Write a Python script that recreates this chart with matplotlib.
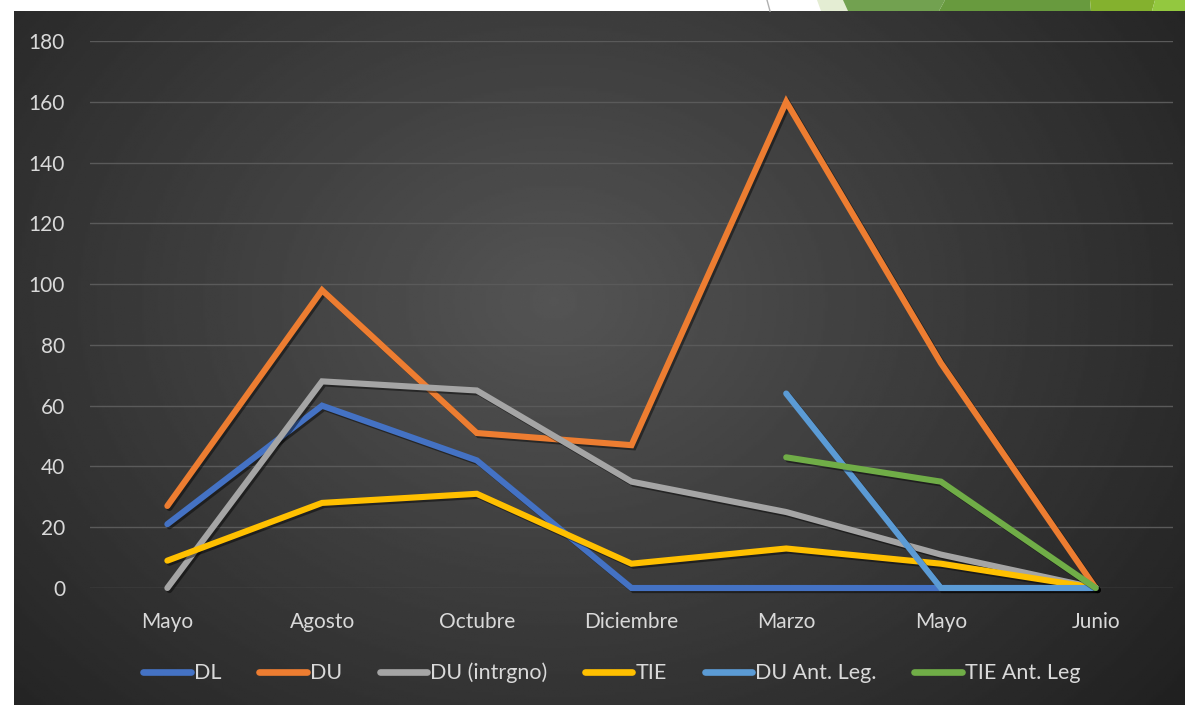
import matplotlib
matplotlib.use("Agg")
import matplotlib.pyplot as plt
import matplotlib.patheffects as pe
import numpy as np
from matplotlib.patches import Polygon

months = ["Mayo", "Agosto", "Octubre", "Diciembre", "Marzo", "Mayo", "Junio"]
nan = np.nan
dl = [21, 60, 42, 0, 0, 0, 0]
du = [27, 98, 51, 47, 160, 74, 0]
du_intrgno = [0, 68, 65, 35, 25, 11, 0]
tie = [9, 28, 31, 8, 13, 8, 0]
du_ant = [nan, nan, nan, nan, 64, 0, 0]
tie_ant = [nan, nan, nan, nan, 43, 35, 0]

series = [
    ("DL", dl, "#4472C4"),
    ("DU", du, "#ED7D31"),
    ("DU (intrgno)", du_intrgno, "#A5A5A5"),
    ("TIE", tie, "#FFC000"),
    ("DU Ant. Leg.", du_ant, "#5B9BD5"),
    ("TIE Ant. Leg", tie_ant, "#70AD47"),
]

plt.rcParams['font.family'] = ['Lato', 'DejaVu Sans']
W, H = 1185, 705
fig = plt.figure(figsize=(W / 100, H / 100), dpi=100, facecolor="white")

# dark radial gradient background
bg = fig.add_axes([14 / W, 0, 1 - 14 / W, (H - 11) / H])
yy, xx = np.mgrid[0:300, 0:500]
cx, cy = 230, 125
r = np.sqrt(((xx - cx) / 340) ** 2 + ((yy - cy) / 270) ** 2)
val = np.clip(0.33 - 0.20 * r, 0.13, 0.33)
bg.imshow(val, cmap="gray", vmin=0, vmax=1, aspect="auto", extent=[0, 1, 0, 1])
bg.set_axis_off()

# decorative shapes in the top strip
def fpoly(pts, color):
    fig.patches.append(Polygon([(x / W, 1 - y / H) for x, y in pts], closed=True,
                               transform=fig.transFigure, facecolor=color,
                               edgecolor="none", zorder=0))

fpoly([(817, 0), (850, 0), (848, 11), (821, 11)], "#E4EDD3")
fpoly([(843, 0), (945, 0), (939, 11), (848, 11)], "#72A150")
fpoly([(945, 0), (1090, 0), (1091, 11), (939, 11)], "#689A3E")
fpoly([(1090, 0), (1155, 0), (1152, 11), (1091, 11)], "#84B12E")
fpoly([(1155, 0), (1185, 0), (1185, 11), (1152, 11)], "#93C83F")
fig.lines.append(plt.Line2D([767 / W, 770 / W], [1, 1 - 11 / H], transform=fig.transFigure,
                            color="#B0B0B0", lw=1))

ax = fig.add_axes([90 / W, (H - 588) / H, (1173 - 90) / W, (588 - 41) / H])
ax.set_facecolor("none")
x = np.arange(len(months)) + 0.5
shadow = [pe.SimpleLineShadow(offset=(1.5, -1.5), shadow_color="black", alpha=0.45), pe.Normal()]
for name, vals, color in series:
    ax.plot(x, vals, color=color, lw=4.4, label=name, solid_capstyle="round",
            solid_joinstyle="miter", clip_on=False, path_effects=shadow, zorder=3)

ax.set_xlim(0, 7)
ax.set_ylim(0, 180)
ax.set_yticks(range(0, 181, 20))
ax.set_xticks(x)
ax.set_xticklabels(months)
ax.grid(axis="y", color="#5A5A5A", lw=1)
ax.set_axisbelow(True)
for s in ax.spines.values():
    s.set_visible(False)
ax.tick_params(length=0, colors="#D9D9D9", labelsize=15)
ax.tick_params(axis="y", pad=18)
ax.tick_params(axis="x", pad=17)

leg = ax.legend(loc="center", bbox_to_anchor=(0.482, -0.155), ncol=6, frameon=False,
                fontsize=15.5, labelcolor="#D9D9D9", handlelength=2.2, handletextpad=0.15,
                columnspacing=1.75)
for h in leg.legend_handles:
    h.set_linewidth(4.8)
    h.set_solid_capstyle("round")
    h.set_path_effects([])

fig.savefig("out.png", dpi=100)
